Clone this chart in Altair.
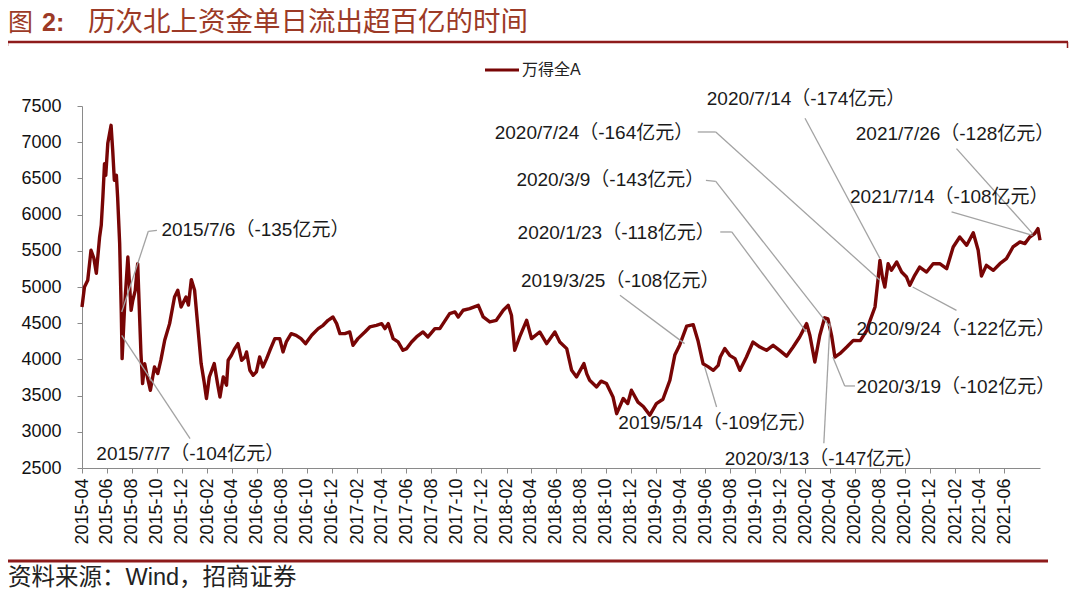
import altair as alt
import pandas as pd

# ---------------- data ----------------
dates = ["2015-04-01","2015-04-07","2015-04-15","2015-04-23","2015-04-30","2015-05-06","2015-05-14","2015-05-18",
"2015-05-22","2015-05-26","2015-05-29","2015-06-03","2015-06-11","2015-06-15","2015-06-19","2015-06-24","2015-06-27",
"2015-07-02","2015-07-06","2015-07-08","2015-07-14","2015-07-22","2015-07-30","2015-08-03","2015-08-09","2015-08-15",
"2015-08-23","2015-08-27","2015-09-01","2015-09-06","2015-09-15","2015-09-25","2015-10-03","2015-10-11","2015-10-20",
"2015-11-01","2015-11-13","2015-11-21","2015-11-29","2015-12-11","2015-12-17","2015-12-24","2016-01-01","2016-01-09",
"2016-01-17","2016-01-24","2016-01-30","2016-02-06","2016-02-18","2016-02-26","2016-03-03","2016-03-11","2016-03-19",
"2016-03-23","2016-03-31","2016-04-08","2016-04-16","2016-04-25","2016-05-03","2016-05-07","2016-05-15","2016-05-23",
"2016-05-31","2016-06-08","2016-06-16","2016-06-25","2016-07-03","2016-07-15","2016-07-27","2016-08-04","2016-08-12",
"2016-08-24","2016-09-05","2016-09-17","2016-09-28","2016-10-13","2016-10-29","2016-11-10","2016-11-22","2016-12-04",
"2016-12-13","2016-12-21","2017-01-02","2017-01-14","2017-01-22","2017-02-03","2017-02-20","2017-03-04","2017-03-20",
"2017-04-02","2017-04-10","2017-04-18","2017-04-30","2017-05-12","2017-05-24","2017-06-02","2017-06-14","2017-06-26",
"2017-07-12","2017-07-24","2017-08-10","2017-08-22","2017-08-30","2017-09-15","2017-09-28","2017-10-06","2017-10-18",
"2017-11-03","2017-11-24","2017-12-06","2017-12-22","2018-01-07","2018-01-24","2018-02-05","2018-02-13","2018-02-21",
"2018-03-05","2018-03-22","2018-04-03","2018-04-23","2018-05-10","2018-05-30","2018-06-11","2018-06-28","2018-07-10",
"2018-07-22","2018-08-09","2018-08-16","2018-08-23","2018-09-09","2018-09-20","2018-10-03","2018-10-11","2018-10-19",
"2018-10-28","2018-11-13","2018-11-24","2018-12-03","2018-12-19","2019-01-01","2019-01-17","2019-02-02","2019-02-18",
"2019-03-07","2019-03-19","2019-03-31","2019-04-17","2019-05-03","2019-05-15","2019-05-27","2019-06-08","2019-06-21",
"2019-07-03","2019-07-08","2019-07-19","2019-07-31","2019-08-13","2019-08-25","2019-09-10","2019-09-26","2019-10-13",
"2019-10-29","2019-11-14","2019-11-30","2019-12-17","2020-01-02","2020-01-18","2020-02-04","2020-02-12","2020-02-24",
"2020-03-07","2020-03-19","2020-03-27","2020-04-05","2020-04-13","2020-04-25","2020-05-12","2020-05-28","2020-06-14",
"2020-06-30","2020-07-08","2020-07-20","2020-07-28","2020-08-01","2020-08-07","2020-08-13","2020-08-21","2020-08-29",
"2020-09-11","2020-09-23","2020-10-05","2020-10-13","2020-10-25","2020-11-06","2020-11-23","2020-12-09","2020-12-25",
"2021-01-11","2021-01-27","2021-02-12","2021-03-01","2021-03-17","2021-03-29","2021-04-06","2021-04-18","2021-05-05",
"2021-05-21","2021-06-06","2021-06-22","2021-07-09","2021-07-21","2021-08-02","2021-08-14","2021-08-22","2021-08-27"]
values = [4724,5000,5093,5507,5397,5189,5691,5853,
6243,6704,6543,6985,7233,6888,6474,6543,6243,
5600,4633,4011,4724,5414,4678,4814,4950,5323,
4080,3666,3942,3800,3573,3895,3804,4000,4264,
4494,4862,4955,4724,4862,4750,5102,4955,4448,
3942,3700,3459,3757,3942,3666,3481,3758,3643,
3988,4057,4149,4218,3988,4034,4103,3850,3781,
3827,4034,3896,4011,4126,4287,4287,4103,4241,
4356,4333,4287,4218,4333,4425,4471,4540,4586,
4494,4356,4356,4379,4195,4287,4379,4448,4471,
4494,4425,4494,4287,4241,4126,4149,4241,4310,
4379,4310,4425,4425,4494,4632,4655,4586,4679,
4701,4747,4586,4517,4540,4678,4747,4610,4126,
4310,4540,4287,4379,4218,4379,4241,4149,3850,
3758,3942,3800,3712,3620,3700,3666,3573,3482,
3250,3460,3390,3574,3410,3350,3230,3390,3450,
3712,4060,4200,4460,4480,4250,3940,3900,3849,
3918,4033,4150,4056,4010,3849,4033,4240,4171,
4125,4194,4125,4045,4171,4310,4494,4330,3964,
4330,4575,4560,4330,4033,4079,4171,4263,4260,
4400,4540,4724,5138,5368,5138,5000,5322,5230,
5345,5207,5138,5023,5161,5276,5207,5322,5322,
5253,5553,5691,5576,5750,5507,5150,5299,5230,
5322,5391,5553,5622,5599,5691,5737,5806,5645]
series_name = "万得全A"

y_ticks = [2500, 3000, 3500, 4000, 4500, 5000, 5500, 6000, 6500, 7000, 7500]
x_tick_labels = ["2015-04","2015-06","2015-08","2015-10","2015-12","2016-02","2016-04","2016-06","2016-08",
"2016-10","2016-12","2017-02","2017-04","2017-06","2017-08","2017-10","2017-12","2018-02","2018-04","2018-06",
"2018-08","2018-10","2018-12","2019-02","2019-04","2019-06","2019-08","2019-10","2019-12","2020-02","2020-04",
"2020-06","2020-08","2020-10","2020-12","2021-02","2021-04","2021-06"]

# annotations: label text, label anchor (date, value)
ann_text = ["2015/7/6（-135亿元）","2015/7/7（-104亿元）","2019/3/25（-108亿元）","2019/5/14（-109亿元）",
"2020/1/23（-118亿元）","2020/3/9（-143亿元）","2020/7/24（-164亿元）","2020/7/14（-174亿元）",
"2020/9/24（-122亿元）","2020/3/19（-102亿元）","2020/3/13（-147亿元）","2021/7/26（-128亿元）",
"2021/7/14（-108亿元）"]
ann_date = ["2015-10-12","2015-05-06","2018-03-08","2018-11-01","2018-02-28","2018-02-25","2018-01-03",
"2019-06-05","2020-06-05","2020-06-05","2019-07-19","2020-06-03","2020-05-20"]
ann_value = [5783,2699,5083,3117,5746,6474,7127,7602,4425,3619,2630,7119,6243]

# leader line segments
seg_d1 = ["2015-10-01","2015-09-10","2015-12-21","2018-11-05","2019-06-29","2019-07-08","2019-08-05",
"2019-06-03","2019-06-27","2019-05-14","2019-06-27","2020-01-31","2021-02-04","2020-06-01","2020-05-07",
"2020-03-17","2021-02-04","2021-01-23"]
seg_v1 = [5783,5769,2906,4886,3343,5760,5760,6474,6460,7141,7141,7330,4678,3633,3633,2841,6912,6036]
seg_d2 = ["2015-09-10","2015-07-07","2015-07-07","2019-04-12","2019-05-31","2019-08-05","2020-02-03",
"2019-06-27","2020-04-01","2019-06-27","2020-08-01","2020-08-01","2020-10-20","2020-05-07","2020-04-08",
"2020-04-01","2021-08-09","2021-08-09"]
seg_v2 = [5769,4655,4333,4218,3895,5760,4379,6460,4448,7141,5093,5396,5000,3633,4033,4499,5738,5714]

title_fig = "图"
title_num = "2:"
title_main = "历次北上资金单日流出超百亿的时间"
source_text = "资料来源：Wind，招商证券"

# ---------------- styles ----------------
LAT = "Liberation Sans"
MIX = "Liberation Sans, Noto Sans CJK SC"
ANN_FONT = "Liberation Sans, Noto Sans CJK TC"
CJK = "Noto Sans CJK SC"
LINE_COLOR = "#780505"
TITLE_COLOR = "#9C3A26"
RULE_RED = "#8E1B1B"

df = pd.DataFrame({"date": dates, "value": values, "series": series_name})
ann = pd.DataFrame({"t": ann_text, "date": ann_date, "value": ann_value})
seg = pd.DataFrame({"date": seg_d1, "value": seg_v1, "date2": seg_d2, "value2": seg_v2})

def dt(s):
    parts = s.split("-")
    d = int(parts[2]) if len(parts) == 3 else 1
    return alt.DateTime(year=int(parts[0]), month=int(parts[1]), date=d, utc=True)

x_scale = alt.Scale(type="utc", domain=[dt("2015-04-01"), dt("2021-08-27")])
y_scale = alt.Scale(domain=[2500, 7500], nice=False, zero=False)

x_axis = alt.Axis(values=[dt(s) for s in x_tick_labels], labelExpr="utcFormat(datum.value, '%Y-%m')",
                  labelAngle=270, labelFontSize=18, labelFont=LAT, labelColor="#111", labelPadding=5,
                  tickSize=5, tickColor="#8a8a8a", domainColor="#8a8a8a", grid=False, title=None,
                  labelOverlap=False, labelSeparation=0, labelBaseline="middle", labelAlign="right",
                  labelFlush=False)
y_axis = alt.Axis(values=y_ticks, format="d", labelFontSize=18, labelFont=LAT, labelColor="#111",
                  labelPadding=16, tickSize=5, tickColor="#8a8a8a", domainColor="#8a8a8a", grid=False,
                  title=None, labelOverlap=False, labelSeparation=0, labelFlush=False)

X = alt.X("date:T", scale=x_scale, axis=x_axis)
Y = alt.Y("value:Q", scale=y_scale, axis=y_axis)

line = alt.Chart(df).mark_line(color=LINE_COLOR, strokeWidth=3.4, strokeJoin="round").encode(x=X, y=Y)

leaders = alt.Chart(seg).mark_rule(color="#a3a3a3", strokeWidth=1.3).encode(
    x=X, y=Y, x2="date2:T", y2="value2:Q")

labels = alt.Chart(ann).mark_text(align="left", baseline="middle", font=ANN_FONT, fontSize=19,
                                  color="#1a1a1a").encode(x=X, y=Y, text="t:N")

one = pd.DataFrame({"k": [0]})

def text_at(txt, x, y, size, font, color, weight="normal"):
    return alt.Chart(pd.DataFrame({"t": [txt]})).mark_text(
        align="left", baseline="middle", font=font, fontSize=size, color=color, fontWeight=weight
    ).encode(x=alt.value(x), y=alt.value(y), text="t:N")

def rule_at(x, x2, y, color, w):
    return alt.Chart(one).mark_rule(color=color, strokeWidth=w).encode(
        x=alt.value(x), x2=alt.value(x2), y=alt.value(y))

def vrule_at(x, y, y2, color, w):
    return alt.Chart(one).mark_rule(color=color, strokeWidth=w).encode(
        x=alt.value(x), y=alt.value(y), y2=alt.value(y2))

deco = [
    text_at(title_fig, -74, -83, 25, CJK, TITLE_COLOR),
    text_at(title_num, -40, -83, 25, LAT, TITLE_COLOR, "bold"),
    text_at(title_main, 6, -83, 27.5, CJK, TITLE_COLOR),
    rule_at(-75, 986, -64, RULE_RED, 2.5),
    vrule_at(-74.5, -64, -60, RULE_RED, 1.5),
    vrule_at(985.5, -64, -58, RULE_RED, 1.5),
    rule_at(403, 437, -36, LINE_COLOR, 3),
    text_at(series_name, 440, -36, 16, MIX, "#222"),
    rule_at(-74, 966, 455, RULE_RED, 3),
    text_at(source_text, -74, 472, 23.5, MIX, "#222"),
]

chart = alt.layer(line, leaders, labels, *deco).properties(
    width=958, height=362,
    autosize=alt.AutoSizeParams(type="none"),
    padding={"left": 74, "top": 98, "right": 32, "bottom": 124},
    background="white",
).configure_view(stroke=None).configure_axis(labelOverlap=False)

chart.save("out.html", embed_options={"renderer": "svg", "actions": False})
